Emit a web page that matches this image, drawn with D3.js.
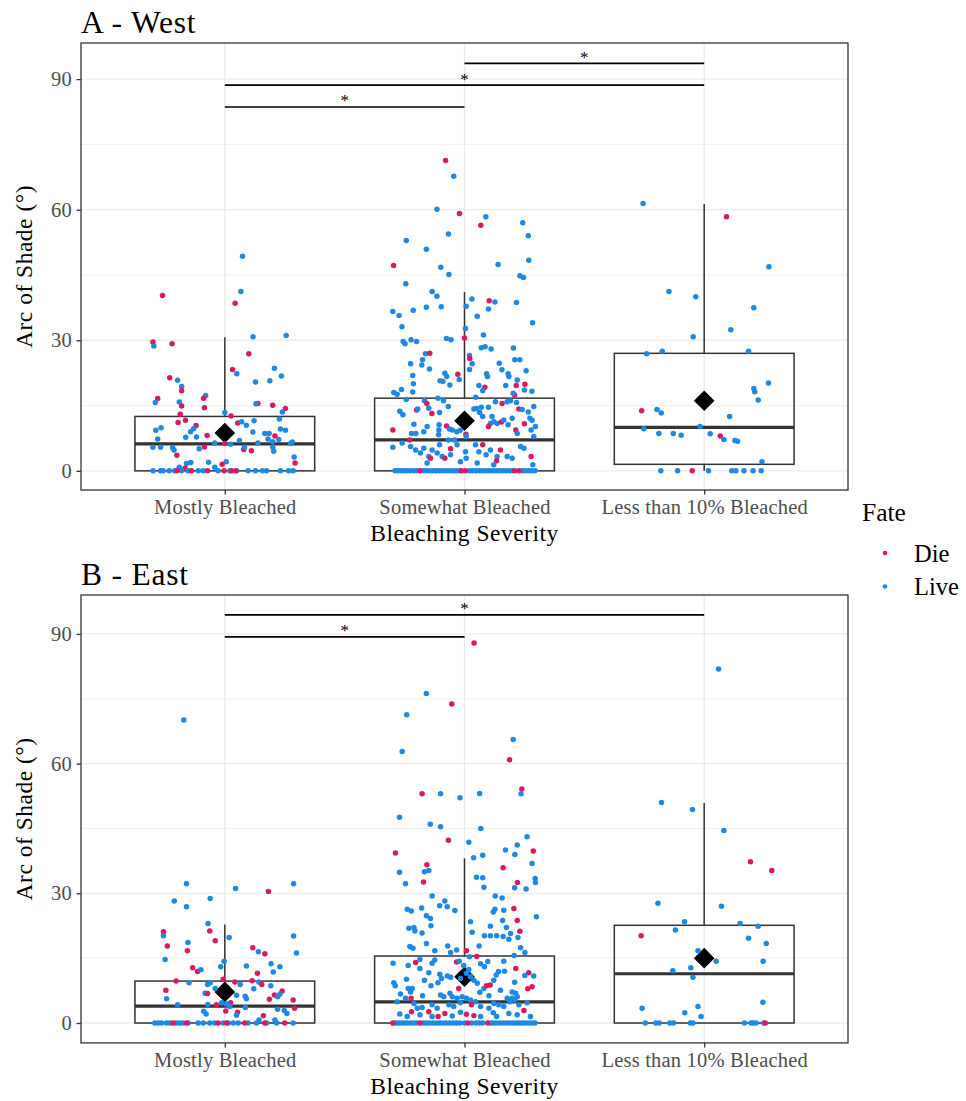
<!DOCTYPE html>
<html><head><meta charset="utf-8">
<script src="https://cdn.jsdelivr.net/npm/d3@7"></script>
<style>body{margin:0;background:#fff} svg{display:block} text{font-family:"Liberation Serif","Times New Roman",serif}</style>
</head><body>
<script>
const categories = ["Mostly Bleached", "Somewhat Bleached", "Less than 10% Bleached"];
const yTicks = [0, 30, 60, 90];
const yMinor = [15, 45, 75];
const fates = ["Die", "Live"];
const fateColors = ["#D81B60", "#1E88E5"];

// Box statistics (West)
const westQ1 = [0, 0, 1.5];
const westMedian = [6.2, 7.1, 10.0];
const westQ3 = [12.5, 16.7, 27.0];
const westLow = [0, 0, 0];
const westHigh = [30.7, 41.1, 61.3];
const westMean = [8.7, 11.5, 16.1];
// Box statistics (East)
const eastQ1 = [0, 0, 0];
const eastMedian = [3.9, 4.9, 11.4];
const eastQ3 = [9.7, 15.5, 22.6];
const eastLow = [0, 0, 0];
const eastHigh = [22.8, 38.1, 50.9];
const eastMean = [7.2, 10.7, 15.0];

// Significance brackets [from, to, height]
const westBrackets = [[0, 1, 83.6], [0, 2, 88.6], [1, 2, 93.6]];
const eastBrackets = [[0, 1, 89.3], [0, 2, 94.4]];

// Points: [jitter, value, fate]
const westMostly = [
[0.074,49.3,"L"],[0.067,41.2,"L"],[-0.26,40.3,"D"],[0.043,38.5,"D"],[0.118,30.8,"L"],[0.256,31.1,"L"],[-0.30,29.6,"D"],[-0.296,28.7,"L"],[-0.22,29.2,"D"],[0.10,26.9,"D"],[0.032,23.3,"D"],[0.05,22.3,"L"],[0.207,23.6,"L"],[0.236,21.8,"L"],[-0.23,21.4,"D"],[-0.197,20.8,"L"],[-0.18,19.4,"L"],[-0.18,18.4,"D"],[0.128,20.4,"L"],[0.188,20.7,"L"],[-0.28,16.6,"D"],[-0.29,15.7,"L"],[-0.08,17.3,"L"],[-0.088,16.7,"D"],[-0.085,14.5,"D"],[-0.19,15.8,"L"],[-0.18,14.9,"D"],[0.138,15.5,"D"],[0.13,15.4,"L"],[0.2,15.1,"D"],[0.253,14.3,"D"],[0.24,13.5,"L"],[-0.186,13.0,"D"],[0,13.4,"L"],[0.026,12.6,"D"],[0.122,11.5,"L"],[0.228,11.9,"L"],[-0.164,11.6,"D"],[-0.195,11.1,"D"],[0.054,11.0,"D"],[0.07,11.3,"L"],[0.09,10.5,"L"],[-0.12,10.4,"D"],[-0.13,9.7,"L"],[-0.266,9.9,"L"],[-0.288,9.3,"L"],[-0.143,9.0,"L"],[0.232,9.6,"L"],[0.253,9.3,"L"],[0.117,8.9,"L"],[0.167,8.6,"L"],[0.185,8.6,"L"],[-0.074,8.1,"D"],[-0.163,7.7,"L"],[-0.118,7.8,"L"],[-0.28,7.3,"L"],[0.209,8.0,"D"],[0.18,7.3,"L"],[0.225,7.2,"L"],[0.061,7.0,"L"],[0.138,6.4,"L"],[0.024,6.1,"L"],[-0.042,6.4,"L"],[0,6.3,"D"],[0.2,6.7,"L"],[0.282,6.6,"L"],[0.275,6.3,"L"],[-0.3,5.4,"L"],[-0.268,5.4,"L"],[-0.085,5.5,"D"],[-0.107,5.1,"L"],[-0.218,5.3,"L"],[-0.212,4.8,"L"],[0.079,4.9,"D"],[0.111,4.6,"D"],[0.082,5.4,"L"],[0.2,5.4,"L"],[0.204,4.5,"L"],[-0.2,3.6,"D"],[0.289,3.2,"L"],[0.293,1.8,"D"],[-0.068,2.0,"L"],[0.006,2.1,"L"],[-0.011,1.5,"D"],[-0.16,1.7,"L"],[-0.142,1.9,"L"],[-0.042,0.8,"L"],[-0.166,0.6,"D"],[-0.19,0.8,"L"],
[-0.299,0,"L"],[-0.268,0,"L"],[-0.257,0,"L"],[-0.232,0,"L"],[-0.209,0,"L"],[-0.181,0,"L"],[-0.153,0,"L"],[-0.111,0,"L"],[-0.09,0,"L"],[-0.028,0,"L"],[0.021,0,"L"],[0.049,0,"L"],[0.097,0,"L"],[0.128,0,"L"],[0.157,0,"L"],[0.174,0,"L"],[0.232,0,"L"],[0.266,0,"L"],[0.285,0,"L"],
[-0.2,0,"D"],[-0.139,0,"D"],[-0.072,0,"D"],[-0.003,0,"D"],[0.028,0,"D"],[0.046,0,"D"]
];
const westSomewhat = [
[-0.079,71.3,"D"],[-0.045,67.7,"L"],[-0.115,60.1,"L"],[-0.021,59.1,"D"],[0.089,58.4,"L"],[0.068,56.4,"D"],[0.243,57.0,"L"],[0.266,54.0,"L"],[-0.243,52.9,"L"],[-0.067,54.4,"L"],[-0.159,50.9,"L"],[0.268,48.4,"L"],[-0.296,47.2,"D"],[-0.099,46.8,"L"],[0.14,47.4,"L"],[-0.065,45.1,"L"],[0.231,44.8,"L"],[0.246,44.4,"L"],[-0.245,43.0,"L"],[-0.135,41.2,"L"],[-0.115,40.1,"L"],[0.031,39.5,"L"],[0.103,39.1,"D"],[0.127,38.8,"L"],[0.217,38.7,"L"],[0.007,37.8,"L"],[-0.159,37.6,"L"],[-0.097,37.7,"L"],[0.1,37.2,"L"],[-0.299,36.6,"L"],[-0.273,35.7,"L"],[-0.214,36.9,"L"],[0.053,35.5,"L"],[0.284,34.0,"L"],[-0.261,33.1,"L"],[0.004,32.7,"L"],[0.079,31.2,"L"],[0,30.5,"D"],
[-0.256,29.7,"L"],[-0.248,29.2,"L"],[-0.223,30.1,"L"],[-0.2,29.7,"L"],[-0.075,30.4,"L"],[-0.056,30.1,"L"],[0.07,28.3,"L"],[0.086,28.5,"L"],[0.111,28.0,"L"],[0.204,28.2,"L"],[-0.163,26.9,"L"],[-0.145,27.0,"D"],[-0.175,25.5,"L"],[-0.178,24.3,"L"],[-0.146,23.4,"L"],[-0.225,24.6,"L"],[0.021,26.5,"L"],[0.022,25.8,"D"],[0.032,24.6,"L"],[0.021,23.3,"L"],[0.145,24.7,"L"],[0.21,25.5,"L"],[0.231,25.5,"L"],[0.156,23.2,"L"],[0.182,22.3,"L"],[0.185,21.7,"L"],[0.257,23.0,"L"],[-0.216,21.9,"L"],[-0.028,22.2,"D"],[-0.022,21.0,"L"],[-0.082,22.4,"L"],[-0.074,21.7,"L"],[-0.102,20.7,"L"],[-0.09,20.5,"L"],[-0.061,19.7,"L"],[0.092,22.3,"L"],[0.096,21.7,"L"],[0.06,19.6,"L"],[0.085,19.2,"D"],[0.076,18.4,"L"],[0.047,16.9,"L"],[0.22,20.9,"L"],[0.216,19.6,"D"],[0.252,19.9,"D"],[0.25,18.6,"L"],[0.281,18.3,"L"],[0.172,19.6,"L"],[0.209,17.4,"D"],[0.203,17.8,"L"],[-0.213,20.0,"L"],[-0.216,18.1,"L"],[-0.295,18.0,"L"],[-0.281,17.6,"L"],[-0.263,18.7,"L"],[-0.243,16.4,"L"],
[-0.167,16.1,"L"],[-0.157,15.5,"D"],[-0.111,16.7,"L"],[-0.088,16.1,"L"],[-0.068,14.8,"L"],[-0.2,14.0,"D"],[-0.195,14.2,"L"],[-0.149,14.4,"L"],[-0.136,13.2,"D"],[-0.27,13.7,"L"],[-0.257,12.9,"L"],[-0.299,9.4,"D"],[-0.211,10.7,"L"],[-0.221,8.6,"L"],[-0.203,8.6,"L"],[-0.229,7.1,"D"],[-0.104,13.4,"L"],[-0.106,10.6,"L"],[-0.107,9.4,"L"],[-0.108,8.3,"L"],[-0.075,10.3,"D"],[-0.063,9.6,"L"],[-0.051,9.4,"L"],[-0.032,9.0,"L"],[-0.018,9.3,"L"],[0.006,8.4,"D"],[0.007,7.9,"L"],[-0.067,7.1,"L"],[-0.042,7.1,"L"],[0.039,14.2,"L"],[0.05,14.3,"L"],[0.07,14.6,"L"],[0.1,14.6,"L"],[0.063,13.4,"L"],[0.076,12.5,"L"],[0.115,12.5,"L"],[0.108,10.9,"L"],[0.1,10.2,"D"],[0.122,11.3,"L"],[0.136,10.9,"L"],[0.154,11.2,"D"],[0.164,11.7,"L"],[0.129,15.9,"L"],[0.157,15.5,"D"],[0.178,15.9,"L"],[0.192,16.1,"L"],[0.217,15.7,"L"],[0.227,14.2,"D"],[0.241,14.1,"L"],[0.266,13.5,"L"],[0.289,14.8,"L"],[0.273,12.1,"L"],[0.282,11.6,"L"],[0.25,10.8,"D"],[0.296,10.2,"L"],[0.199,12.1,"L"],[0.182,10.6,"L"],[0.214,9.4,"D"],[0.22,8.6,"L"],[0.278,9.4,"L"],[0.289,7.9,"L"],[-0.156,10.2,"L"],[-0.17,9.0,"L"],
[-0.299,5.4,"L"],[-0.26,6.4,"L"],[-0.225,5.6,"L"],[-0.204,4.8,"L"],[-0.184,4.1,"L"],[-0.17,5.2,"L"],[-0.149,3.3,"L"],[-0.135,4.8,"L"],[-0.142,2.9,"D"],[-0.114,4.1,"L"],[-0.104,6.0,"L"],[-0.093,3.3,"L"],[-0.082,2.9,"D"],[-0.058,5.1,"D"],[-0.058,3.7,"L"],[-0.031,6.0,"L"],[0.004,4.4,"L"],[0.007,2.9,"L"],[-0.017,2.1,"L"],[0.046,6.0,"L"],[0.076,6.0,"D"],[0.06,4.4,"L"],[0.09,3.7,"L"],[0.108,4.8,"L"],[0.15,4.8,"D"],[0.136,3.3,"L"],[0.134,2.3,"D"],[0.178,3.3,"L"],[0.199,2.9,"L"],[0.234,5.6,"L"],[0.248,5.2,"L"],[0.278,3.3,"D"],[0.285,1.4,"L"],[0.122,1.4,"L"],[0.053,1.8,"L"],[-0.156,1.8,"L"],
[-0.29,0,"L"],[-0.278,0,"L"],[-0.266,0,"L"],[-0.252,0,"L"],[-0.24,0,"L"],[-0.226,0,"L"],[-0.212,0,"L"],[-0.2,0,"L"],[-0.172,0,"L"],[-0.16,0,"L"],[-0.146,0,"L"],[-0.132,0,"L"],[-0.118,0,"L"],[-0.104,0,"L"],[-0.09,0,"L"],[-0.076,0,"L"],[-0.062,0,"L"],[-0.048,0,"L"],[-0.034,0,"L"],[-0.02,0,"L"],[0.02,0,"L"],[0.034,0,"L"],[0.048,0,"L"],[0.062,0,"L"],[0.076,0,"L"],[0.09,0,"L"],[0.104,0,"L"],[0.118,0,"L"],[0.132,0,"L"],[0.146,0,"L"],[0.16,0,"L"],[0.174,0,"L"],[0.188,0,"L"],[0.2,0,"L"],[0.24,0,"L"],[0.252,0,"L"],[0.266,0,"L"],[0.28,0,"L"],[0.294,0,"L"],
[-0.186,0,"D"],[-0.014,0,"D"],[0.003,0,"D"],[0.209,0,"D"],[0.227,0,"D"]
];
const westLess = [
[-0.255,61.4,"L"],[0.093,58.4,"D"],[0.27,46.9,"L"],[-0.147,41.2,"L"],[-0.035,40.0,"L"],[0.207,37.5,"L"],[0.111,32.4,"L"],[-0.046,30.8,"L"],[-0.24,26.9,"L"],[-0.175,27.5,"L"],[0.185,27.5,"L"],[0.268,20.2,"L"],[0.207,18.9,"L"],[0.211,18.2,"L"],[0.225,16.3,"L"],[-0.261,13.8,"D"],[-0.197,14.1,"L"],[-0.179,13.3,"L"],[0.106,12.5,"L"],[-0.252,9.7,"L"],[-0.017,10.2,"L"],[-0.189,8.6,"L"],[-0.129,8.6,"L"],[-0.096,8.2,"L"],[0.025,8.5,"L"],[0.067,8.0,"D"],[0.082,7.2,"L"],[0.128,7.0,"L"],[0.139,6.8,"L"],[0.241,2.1,"L"],
[-0.181,0,"L"],[-0.111,0,"L"],[0.018,0,"L"],[0.115,0,"L"],[0.132,0,"L"],[0.166,0,"L"],[0.204,0,"L"],[0.238,0,"L"],[-0.05,0,"D"]
];
const eastMostly = [
[-0.171,70.1,"L"],[-0.16,32.2,"L"],[0.287,32.2,"L"],[0.045,31.1,"L"],[0.182,30.4,"D"],[-0.211,28.2,"L"],[-0.16,26.9,"L"],[-0.061,28.8,"L"],[-0.07,23.0,"L"],[-0.256,21.1,"D"],[-0.256,20.2,"L"],[-0.063,21.3,"D"],[-0.04,19.0,"D"],[0.018,19.8,"L"],[0.287,20.1,"L"],[-0.24,17.8,"D"],[-0.154,18.6,"L"],[-0.156,16.7,"D"],[0.117,17.4,"D"],[0.14,16.5,"L"],[0.167,16.0,"D"],[0.299,16.2,"L"],[-0.249,14.7,"L"],[-0.003,14.3,"L"],[-0.017,13.0,"L"],[0.09,13.2,"L"],[0.193,13.7,"L"],[0.23,13.0,"L"],[0.202,11.8,"L"],[-0.134,12.8,"D"],[-0.114,11.9,"D"],[-0.1,12.3,"L"],[0.136,11.5,"D"],[-0.203,9.7,"D"],[-0.149,9.3,"L"],[-0.072,8.9,"L"],[-0.061,9.3,"L"],[-0.007,10.1,"D"],[0.042,9.5,"D"],[0.064,8.9,"L"],[0.114,9.8,"D"],[0.142,9.5,"L"],[0.154,8.9,"D"],[0.192,8.6,"L"],[-0.246,7.6,"D"],[0.121,7.9,"L"],[-0.04,8.0,"L"],[-0.082,6.9,"L"],[-0.072,6.8,"D"],[0.239,7.4,"D"],[0.23,6.7,"L"],[0.207,6.5,"D"],[0.221,6.1,"L"],[-0.243,5.6,"L"],[0.186,5.5,"D"],[0.285,5.3,"D"],[0.049,6.4,"L"],[0.085,6.2,"L"],[0.09,5.6,"L"],[-0.197,4.2,"L"],[-0.071,4.3,"L"],[-0.035,4.2,"D"],[-0.013,4.7,"L"],[0.024,4.7,"D"],[0.007,4.4,"L"],[0.021,3.8,"L"],[0.086,3.6,"L"],[0.291,3.4,"D"],[0.22,3.2,"L"],[0.248,2.9,"L"],[0.259,2.2,"L"],[-0.088,2.7,"L"],[-0.078,2.1,"L"],[0.004,2.8,"D"],[0.053,2.5,"D"],[0.049,1.8,"L"],[0.161,1.7,"D"],[0.143,0.7,"L"],[0.209,0.7,"L"],
[-0.292,0,"L"],[-0.278,0,"L"],[-0.264,0,"L"],[-0.243,0,"L"],[-0.229,0,"L"],[-0.202,0,"L"],[-0.188,0,"L"],[-0.174,0,"L"],[-0.153,0,"L"],[-0.111,0,"L"],[-0.09,0,"L"],[-0.063,0,"L"],[-0.042,0,"L"],[-0.007,0,"L"],[0.014,0,"L"],[0.035,0,"L"],[0.056,0,"L"],[0.097,0,"L"],[0.132,0,"L"],[0.174,0,"L"],[0.216,0,"L"],[0.285,0,"L"],
[-0.216,0,"D"],[-0.16,0,"D"],[-0.028,0,"D"],[0.007,0,"D"],[0.083,0,"D"],[0.167,0,"D"],[0.25,0,"D"]
];
const eastSomewhat = [
[0.04,87.9,"D"],[-0.159,76.2,"L"],[-0.053,73.8,"D"],[-0.241,71.3,"L"],[0.203,65.6,"L"],[-0.26,62.8,"L"],[0.188,60.9,"D"],[0.239,54.1,"D"],[0.236,53.0,"L"],[-0.177,53.0,"D"],[-0.1,53.0,"L"],[-0.019,52.1,"L"],[0.063,53.1,"L"],[-0.271,47.6,"L"],[-0.143,46.0,"L"],[-0.1,45.4,"L"],[0.068,45.0,"L"],
[-0.067,42.3,"D"],[0.018,41.8,"L"],[0.261,43.1,"L"],[0.22,41.2,"L"],[0.171,40.0,"L"],[0.21,39.0,"L"],[0.287,39.8,"D"],[-0.288,39.3,"D"],[0.038,38.2,"L"],[0.076,38.8,"L"],[0.282,36.9,"L"],[-0.157,36.6,"D"],[-0.167,35.0,"L"],[-0.149,35.3,"L"],[-0.271,34.9,"L"],[0.161,35.9,"D"],[0.05,33.7,"L"],[0.076,33.6,"L"],[0.081,31.4,"L"],[-0.171,32.6,"D"],[-0.246,32.2,"L"],[0.221,32.5,"D"],[0.295,33.4,"L"],[0.296,32.5,"L"],[0.209,31.3,"L"],[0.257,31.0,"L"],[-0.135,29.4,"L"],[0.128,29.4,"L"],[0.157,28.9,"L"],[-0.082,28.2,"L"],[-0.104,27.1,"L"],[-0.072,26.9,"L"],[-0.04,26.0,"L"],[-0.239,26.3,"L"],[-0.222,25.9,"L"],[-0.179,26.6,"L"],[0.206,26.5,"D"],[0.164,26.1,"L"],[0.12,25.7,"L"],[0.127,26.3,"L"],[-0.159,24.8,"L"],[-0.142,24.2,"L"],[0.3,24.6,"L"],[0.22,23.7,"D"],[0.159,23.7,"L"],[0.025,23.4,"L"],[-0.14,22.5,"L"],[-0.232,21.9,"L"],[-0.211,22.1,"L"],[0.108,22.4,"L"],[0.175,22.1,"L"],[-0.207,21.3,"L"],[-0.177,20.8,"L"],[0.231,21.2,"D"],[0.032,21.0,"L"],[0.192,20.7,"L"],[0.083,20.2,"L"],[0.108,20.2,"L"],[0.134,20.2,"L"],[0.161,20.0,"L"],[0.185,19.4,"L"],[0.223,19.8,"L"],[-0.159,18.4,"L"],[0.061,17.8,"L"],[-0.228,17.7,"L"],[-0.215,17.3,"L"],[-0.124,16.7,"L"],[-0.07,17.8,"L"],[-0.058,16.3,"L"],[-0.033,16.9,"L"],[0.008,16.7,"D"],[0.021,15.3,"L"],[0.051,15.4,"D"],[0.234,17.4,"L"],[0.252,16.3,"L"],[0.207,15.6,"L"],
[-0.298,13.8,"L"],[-0.204,14.0,"D"],[-0.186,14.7,"L"],[-0.235,13.3,"L"],[-0.186,12.6,"L"],[-0.135,13.8,"L"],[-0.124,14.6,"L"],[-0.033,14.1,"D"],[-0.022,14.3,"L"],[-0.003,13.3,"L"],[0.018,12.4,"L"],[0.008,11.5,"L"],[0.025,10.7,"L"],[-0.017,10.3,"L"],[0.039,9.9,"L"],[0.067,13.7,"L"],[0.083,13.0,"L"],[0.097,14.2,"L"],[0.164,14.3,"L"],[0.214,12.6,"D"],[0.142,11.9,"L"],[0.167,12.0,"L"],[0.132,11.1,"L"],[0.122,9.9,"L"],[0.268,11.6,"D"],[0.252,11.0,"L"],[0.289,10.9,"L"],[0.264,7.9,"D"],[0.282,8.4,"D"],[0.209,9.4,"L"],[-0.149,11.6,"L"],[-0.103,11.3,"L"],[-0.096,10.3,"L"],[-0.072,10.9,"L"],[-0.058,10.6,"L"],[-0.167,9.9,"L"],[-0.111,9.3,"L"],[-0.14,8.6,"L"],[-0.295,9.3,"L"],[-0.289,8.6,"L"],[-0.242,10.1,"L"],[-0.235,8.0,"L"],[-0.218,8.0,"L"],[-0.225,7.2,"L"],[-0.267,6.7,"L"],[-0.246,5.7,"L"],[-0.175,6.3,"L"],[-0.024,8.0,"D"],[0.053,9.2,"L"],[0.064,7.1,"L"],[0.081,8.0,"L"],[0.092,8.6,"D"],[0.107,8.8,"D"],[0.102,6.3,"L"],[0.15,7.6,"L"],[0.199,7.2,"L"],[0.213,6.9,"L"],[0.22,6.1,"L"],[0.199,5.7,"L"],[0.178,5.7,"L"],[-0.1,6.5,"L"],[-0.086,6.1,"L"],[-0.061,6.9,"L"],[-0.051,6.1,"L"],[-0.031,5.7,"L"],[-0.01,6.1,"L"],[0.008,5.7,"L"],[0.025,5.3,"L"],[0.029,4.2,"D"],[-0.223,5.7,"D"],
[-0.281,4.9,"L"],[-0.211,4.5,"L"],[-0.197,3.4,"L"],[-0.177,3.6,"L"],[-0.135,4.2,"L"],[-0.114,3.4,"L"],[-0.065,4.2,"L"],[-0.045,3.8,"L"],[-0.017,4.7,"L"],[0.046,4.9,"L"],[0.067,3.8,"L"],[0.102,3.4,"L"],[0.122,4.5,"L"],[0.143,4.2,"L"],[0.164,3.8,"L"],[0.189,4.9,"L"],[0.209,5.3,"L"],[0.227,4.2,"L"],[0.261,4.7,"L"],
[-0.221,2.6,"D"],[-0.149,2.6,"D"],[-0.082,2.2,"D"],[0.008,2.0,"D"],[0.039,1.7,"D"],[0.248,2.9,"D"],[-0.11,1.5,"D"],
[-0.27,2.1,"L"],[-0.239,1.5,"L"],[-0.186,1.9,"L"],[-0.135,1.5,"L"],[-0.051,1.6,"L"],[-0.017,2.5,"L"],[0.067,1.5,"L"],[0.12,2.4,"L"],[0.134,1.5,"L"],[0.185,2.2,"L"],[0.22,1.9,"L"],[0.275,1.5,"L"],
[-0.29,0,"L"],[-0.278,0,"L"],[-0.266,0,"L"],[-0.252,0,"L"],[-0.24,0,"L"],[-0.226,0,"L"],[-0.212,0,"L"],[-0.2,0,"L"],[-0.172,0,"L"],[-0.16,0,"L"],[-0.146,0,"L"],[-0.132,0,"L"],[-0.118,0,"L"],[-0.104,0,"L"],[-0.09,0,"L"],[-0.076,0,"L"],[-0.062,0,"L"],[-0.048,0,"L"],[-0.034,0,"L"],[-0.02,0,"L"],[0.0,0,"L"],[0.03,0,"L"],[0.048,0,"L"],[0.062,0,"L"],[0.076,0,"L"],[0.11,0,"L"],[0.118,0,"L"],[0.132,0,"L"],[0.146,0,"L"],[0.16,0,"L"],[0.174,0,"L"],[0.188,0,"L"],[0.2,0,"L"],[0.214,0,"L"],[0.228,0,"L"],[0.24,0,"L"],[0.252,0,"L"],[0.266,0,"L"],[0.28,0,"L"],[0.294,0,"L"],
[-0.299,0,"D"],[-0.186,0,"D"],[0.014,0,"D"],[0.097,0,"D"]
];
const eastLess = [
[0.06,81.9,"L"],[-0.178,51.0,"L"],[-0.049,49.4,"L"],[0.082,44.5,"L"],[0.193,37.3,"D"],[0.282,35.3,"D"],[-0.193,27.7,"L"],[0.072,27.0,"L"],[-0.082,23.4,"L"],[0.15,23.0,"L"],[0.225,22.4,"L"],[-0.263,20.2,"D"],[-0.12,21.5,"L"],[0.185,19.6,"L"],[0.259,18.4,"L"],[-0.026,16.7,"L"],[0.05,14.3,"L"],[0.246,14.3,"L"],[-0.131,12.1,"L"],[-0.056,12.8,"L"],[-0.047,10.6,"L"],[0.245,4.8,"L"],[-0.259,3.4,"L"],[-0.081,2.4,"L"],[-0.026,3.8,"L"],[-0.013,1.5,"L"],
[-0.246,0,"L"],[-0.202,0,"L"],[-0.188,0,"L"],[-0.143,0,"L"],[-0.128,0,"L"],[-0.058,0,"L"],[-0.047,0,"L"],[0.168,0,"L"],[0.196,0,"L"],[0.204,0,"L"],[0.216,0,"L"],[0.249,0,"L"],[0.255,0,"D"]
];

const W = 966, H = 1101;
const left = 81, right = 848;
const svg = d3.select("body").append("svg").attr("width", W).attr("height", H);

const panels = [
  {title: "A - West", top: 43, bottom: 490, domain: [-4.4, 98.3],
   q1: westQ1, med: westMedian, q3: westQ3, lo: westLow, hi: westHigh, mean: westMean,
   pts: [westMostly, westSomewhat, westLess], brackets: westBrackets},
  {title: "B - East", top: 595, bottom: 1042.9, domain: [-4.6, 99.0],
   q1: eastQ1, med: eastMedian, q3: eastQ3, lo: eastLow, hi: eastHigh, mean: eastMean,
   pts: [eastMostly, eastSomewhat, eastLess], brackets: eastBrackets}
];

const fateColor = d3.scaleOrdinal().domain(["D", "L"]).range(fateColors);

panels.forEach(p => {
  const g = svg.append("g");
  const x = d3.scalePoint().domain(categories).range([left, right]).padding(0.6);
  const step = x.step();
  const y = d3.scaleLinear().domain(p.domain).range([p.bottom, p.top]);

  // grid
  g.selectAll(".minor").data(yMinor).join("line")
    .attr("x1", left).attr("x2", right).attr("y1", d => y(d)).attr("y2", d => y(d))
    .attr("stroke", "#EBEBEB").attr("stroke-width", 0.7);
  g.selectAll(".major").data(yTicks).join("line")
    .attr("x1", left).attr("x2", right).attr("y1", d => y(d)).attr("y2", d => y(d))
    .attr("stroke", "#EBEBEB").attr("stroke-width", 1.3);
  g.selectAll(".vmajor").data(categories).join("line")
    .attr("x1", d => x(d)).attr("x2", d => x(d)).attr("y1", p.top).attr("y2", p.bottom)
    .attr("stroke", "#EBEBEB").attr("stroke-width", 1.3);

  // boxes
  const bw = step * 0.75;
  categories.forEach((c, i) => {
    const cx = x(c);
    g.append("line").attr("x1", cx).attr("x2", cx).attr("y1", y(p.q3[i])).attr("y2", y(p.hi[i]))
      .attr("stroke", "#333").attr("stroke-width", 1.5);
    if (p.q1[i] > p.lo[i]) {
      g.append("line").attr("x1", cx).attr("x2", cx).attr("y1", y(p.q1[i])).attr("y2", y(p.lo[i]))
        .attr("stroke", "#333").attr("stroke-width", 1.5);
    }
    g.append("rect").attr("x", cx - bw / 2).attr("y", y(p.q3[i])).attr("width", bw)
      .attr("height", y(p.q1[i]) - y(p.q3[i])).attr("fill", "none")
      .attr("stroke", "#333").attr("stroke-width", 1.5);
    g.append("line").attr("x1", cx - bw / 2).attr("x2", cx + bw / 2)
      .attr("y1", y(p.med[i])).attr("y2", y(p.med[i]))
      .attr("stroke", "#333").attr("stroke-width", 3.2);
    // mean diamond
    g.append("path").attr("transform", `translate(${cx},${y(p.mean[i])})`)
      .attr("d", "M0,-10.3L10.3,0L0,10.3L-10.3,0Z").attr("fill", "#000");
  });

  // points
  categories.forEach((c, i) => {
    g.append("g").selectAll("circle").data(p.pts[i]).join("circle")
      .attr("cx", d => x(c) + d[0] * step)
      .attr("cy", d => y(d[1]))
      .attr("r", 2.75)
      .attr("fill", d => fateColor(d[2]));
  });

  // brackets
  p.brackets.forEach(b => {
    const x1 = x(categories[b[0]]), x2 = x(categories[b[1]]), yy = y(b[2]);
    g.append("line").attr("x1", x1).attr("x2", x2).attr("y1", yy).attr("y2", yy)
      .attr("stroke", "#000").attr("stroke-width", 1.7);
    g.append("text").attr("x", (x1 + x2) / 2).attr("y", yy - 0.5).attr("text-anchor", "middle")
      .attr("font-size", 17).attr("fill", "#000").text("*");
  });

  // border
  g.append("rect").attr("x", left).attr("y", p.top).attr("width", right - left)
    .attr("height", p.bottom - p.top).attr("fill", "none").attr("stroke", "#333").attr("stroke-width", 1.3);

  // axes
  const ya = g.append("g").attr("transform", `translate(${left},0)`)
    .call(d3.axisLeft(y).tickValues(yTicks).tickSize(4.5).tickPadding(4.5));
  const xa = g.append("g").attr("transform", `translate(0,${p.bottom})`)
    .call(d3.axisBottom(x).tickSize(4.5).tickPadding(5));
  [ya, xa].forEach(a => {
    a.select(".domain").remove();
    a.selectAll(".tick line").attr("stroke", "#333").attr("stroke-width", 1.3);
    a.selectAll(".tick text").attr("fill", "#4D4D4D").attr("font-size", 20.5)
      .attr("letter-spacing", 0.2)
      .attr("font-family", '"Liberation Serif","Times New Roman",serif');
  });

  // titles
  g.append("text").attr("x", left).attr("y", p.top - 10).attr("font-size", 31.5)
    .attr("letter-spacing", 0.8).attr("fill", "#000").text(p.title);
  g.append("text").attr("x", (left + right) / 2).attr("y", p.bottom + 51).attr("text-anchor", "middle")
    .attr("font-size", 23.5).attr("letter-spacing", 0.5).attr("fill", "#000").text("Bleaching Severity");
  g.append("text").attr("transform", `translate(32,${(p.top + p.bottom) / 2}) rotate(-90)`)
    .attr("text-anchor", "middle").attr("font-size", 23.5).attr("letter-spacing", 0.5)
    .attr("fill", "#000").text("Arc of Shade (°)");
});

// legend
const lg = svg.append("g");
lg.append("text").attr("x", 862).attr("y", 521).attr("font-size", 25.5).attr("fill", "#000").text("Fate");
fates.forEach((f, i) => {
  const yy = 553 + i * 33.5;
  lg.append("circle").attr("cx", 885).attr("cy", yy).attr("r", 2.3).attr("fill", fateColors[i]);
  lg.append("text").attr("x", 914).attr("y", yy + 8.5).attr("font-size", 24.5).attr("fill", "#000").text(f);
});
</script>
</body></html>
